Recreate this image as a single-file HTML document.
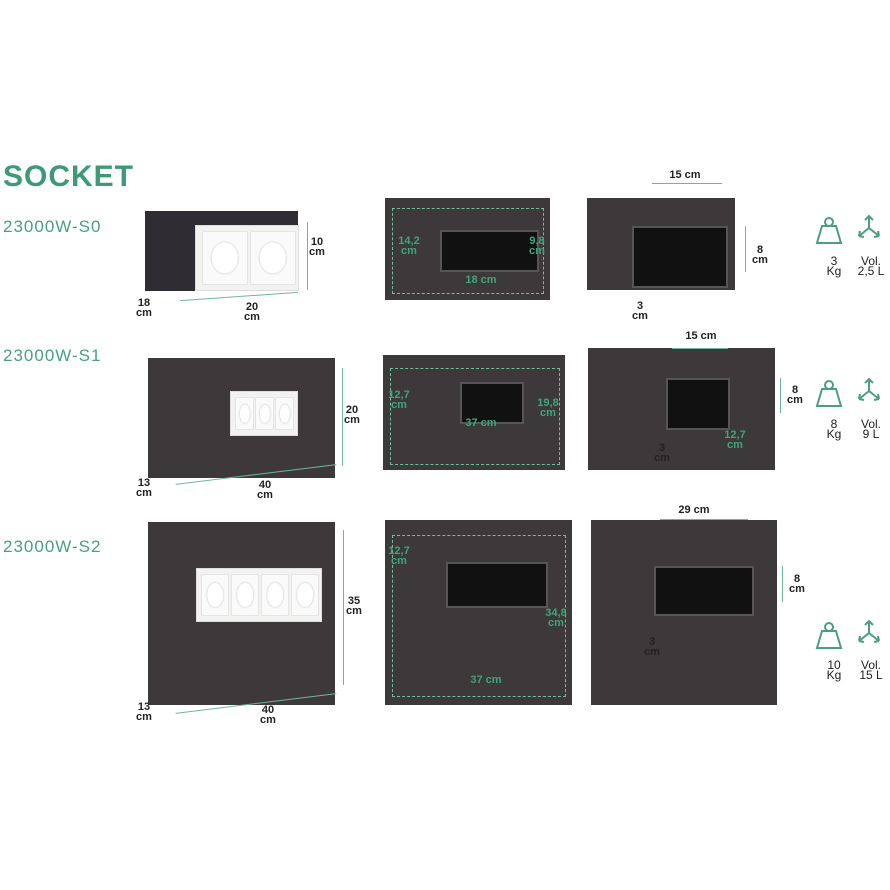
<!DOCTYPE html>
<html><head><meta charset="utf-8"><style>
body{margin:0;width:890px;height:890px;background:#fff;position:relative;overflow:hidden;font-family:"Liberation Sans",sans-serif}
.a{position:absolute}
.box{position:absolute;background:#3d3839;}
.t{position:absolute;font-weight:bold;font-size:11px;line-height:10px;text-align:center;color:#222}
.g{color:#3fa57c}
.lab{position:absolute;color:#4aa07e;font-size:17px;letter-spacing:1px}
.ds{position:absolute;border:1px dashed #6fbf9a}
.plate{position:absolute;background:#f2f2f0;border:1px solid #ddd}
.soc{position:absolute;background:#fafafa;border:1px solid #e4e4e4;border-radius:2px}
.soc:after{content:"";position:absolute;left:50%;top:50%;width:60%;height:60%;transform:translate(-50%,-50%);border-radius:50%;background:#fff;box-shadow:0 0 2px #bbb}
.lock{position:absolute;background:#111;border:2px solid #555}
.ln{position:absolute;background:#6db89a}
</style></head><body>
<div class="a" style="left:3px;top:160px;font-size:30px;font-weight:bold;color:#3c9a74;letter-spacing:1px">SOCKET</div>
<div class="lab" style="left:3px;top:217px">23000W-S0</div>
<div class="lab" style="left:3px;top:346px">23000W-S1</div>
<div class="lab" style="left:3px;top:537px">23000W-S2</div>

<!-- row0 -->
<div class="box" style="left:145px;top:211px;width:153px;height:80px;background:#2f2c33"></div>
<div class="plate" style="left:195px;top:225px;width:102px;height:64px"></div>
<div class="soc" style="left:202px;top:231px;width:44px;height:52px"></div>
<div class="soc" style="left:250px;top:231px;width:44px;height:52px"></div>
<div class="ln" style="left:307px;top:222px;width:1px;height:68px"></div>
<div class="t" style="left:304px;top:237px;width:26px">10<br>cm</div>
<div class="ln" style="left:180px;top:296px;width:118px;height:1px;transform:rotate(-4deg)"></div>
<div class="t" style="left:132px;top:298px;width:24px">18<br>cm</div>
<div class="t" style="left:240px;top:302px;width:24px">20<br>cm</div>

<div class="box" style="left:385px;top:198px;width:165px;height:102px"></div>
<div class="ds" style="left:392px;top:208px;width:150px;height:84px"></div>
<div class="lock" style="left:440px;top:230px;width:95px;height:38px"></div>
<div class="t g" style="left:394px;top:236px;width:30px">14,2<br>cm</div>
<div class="t g" style="left:522px;top:236px;width:30px">9,8<br>cm</div>
<div class="t g" style="left:458px;top:275px;width:46px">18 cm</div>

<div class="box" style="left:587px;top:198px;width:148px;height:92px"></div>
<div class="lock" style="left:632px;top:226px;width:92px;height:58px"></div>
<div class="t" style="left:662px;top:170px;width:46px">15 cm</div>
<div class="ln" style="left:652px;top:183px;width:70px;height:1px"></div>
<div class="ln" style="left:745px;top:226px;width:1px;height:46px"></div>
<div class="t" style="left:748px;top:245px;width:24px">8<br>cm</div>
<div class="t" style="left:628px;top:301px;width:24px">3<br>cm</div>

<!-- row1 -->
<div class="box" style="left:148px;top:358px;width:187px;height:120px"></div>
<div class="plate" style="left:230px;top:391px;width:66px;height:43px"></div>
<div class="soc" style="left:235px;top:397px;width:17px;height:31px"></div>
<div class="soc" style="left:255px;top:397px;width:17px;height:31px"></div>
<div class="soc" style="left:275px;top:397px;width:17px;height:31px"></div>
<div class="ln" style="left:342px;top:368px;width:1px;height:98px"></div>
<div class="t" style="left:339px;top:405px;width:26px">20<br>cm</div>
<div class="ln" style="left:175px;top:474px;width:162px;height:1px;transform:rotate(-7deg)"></div>
<div class="t" style="left:132px;top:478px;width:24px">13<br>cm</div>
<div class="t" style="left:253px;top:480px;width:24px">40<br>cm</div>

<div class="box" style="left:383px;top:355px;width:182px;height:115px"></div>
<div class="ds" style="left:390px;top:368px;width:168px;height:95px"></div>
<div class="lock" style="left:460px;top:382px;width:60px;height:38px"></div>
<div class="t g" style="left:384px;top:390px;width:30px">12,7<br>cm</div>
<div class="t g" style="left:532px;top:398px;width:32px">19,8<br>cm</div>
<div class="t g" style="left:458px;top:418px;width:46px">37 cm</div>

<div class="box" style="left:588px;top:348px;width:187px;height:122px"></div>
<div class="lock" style="left:666px;top:378px;width:60px;height:48px"></div>
<div class="t" style="left:678px;top:331px;width:46px">15 cm</div>
<div class="ln" style="left:672px;top:348px;width:56px;height:1px"></div>
<div class="ln" style="left:780px;top:378px;width:1px;height:35px"></div>
<div class="t" style="left:784px;top:385px;width:22px">8<br>cm</div>
<div class="t" style="left:650px;top:443px;width:24px">3<br>cm</div>
<div class="t g" style="left:720px;top:430px;width:30px">12,7<br>cm</div>

<!-- row2 -->
<div class="box" style="left:148px;top:522px;width:187px;height:183px"></div>
<div class="plate" style="left:196px;top:568px;width:124px;height:52px"></div>
<div class="soc" style="left:201px;top:574px;width:26px;height:40px"></div>
<div class="soc" style="left:231px;top:574px;width:26px;height:40px"></div>
<div class="soc" style="left:261px;top:574px;width:26px;height:40px"></div>
<div class="soc" style="left:291px;top:574px;width:26px;height:40px"></div>
<div class="ln" style="left:343px;top:530px;width:1px;height:155px"></div>
<div class="t" style="left:341px;top:596px;width:26px">35<br>cm</div>
<div class="ln" style="left:175px;top:703px;width:162px;height:1px;transform:rotate(-7deg)"></div>
<div class="t" style="left:132px;top:702px;width:24px">13<br>cm</div>
<div class="t" style="left:256px;top:705px;width:24px">40<br>cm</div>

<div class="box" style="left:385px;top:520px;width:187px;height:185px"></div>
<div class="ds" style="left:392px;top:535px;width:172px;height:160px"></div>
<div class="lock" style="left:446px;top:562px;width:98px;height:42px"></div>
<div class="t g" style="left:384px;top:546px;width:30px">12,7<br>cm</div>
<div class="t g" style="left:540px;top:608px;width:32px">34,8<br>cm</div>
<div class="t g" style="left:463px;top:675px;width:46px">37 cm</div>

<div class="box" style="left:591px;top:520px;width:186px;height:185px"></div>
<div class="lock" style="left:654px;top:566px;width:96px;height:46px"></div>
<div class="t" style="left:671px;top:505px;width:46px">29 cm</div>
<div class="ln" style="left:660px;top:519px;width:88px;height:1px"></div>
<div class="ln" style="left:782px;top:566px;width:1px;height:36px"></div>
<div class="t" style="left:786px;top:574px;width:22px">8<br>cm</div>
<div class="t" style="left:640px;top:637px;width:24px">3<br>cm</div>

<!-- icons -->
<svg class="a" style="left:815px;top:212px" width="75" height="460" viewBox="0 0 75 460" fill="none" stroke="#4aa07e" stroke-width="2">
 <g id="i0"><circle cx="14" cy="10" r="4"/><path d="M7 14h14l5 17H2z"/>
 <path d="M54 4v12M50 8l4-4 4 4M54 16l-10 8M44 24l1-5M44 24l5 1M54 16l10 8M64 24l-1-5M64 24l-5 1"/></g>
 <use href="#i0" y="163"/><use href="#i0" y="405"/>
</svg>
<div class="t" style="left:820px;top:256px;width:28px;font-size:12px;font-weight:normal">3<br>Kg</div>
<div class="t" style="left:852px;top:256px;width:38px;font-size:12px;font-weight:normal">Vol.<br>2,5 L</div>
<div class="t" style="left:820px;top:419px;width:28px;font-size:12px;font-weight:normal">8<br>Kg</div>
<div class="t" style="left:852px;top:419px;width:38px;font-size:12px;font-weight:normal">Vol.<br>9 L</div>
<div class="t" style="left:820px;top:660px;width:28px;font-size:12px;font-weight:normal">10<br>Kg</div>
<div class="t" style="left:852px;top:660px;width:38px;font-size:12px;font-weight:normal">Vol.<br>15 L</div>
</body></html>
